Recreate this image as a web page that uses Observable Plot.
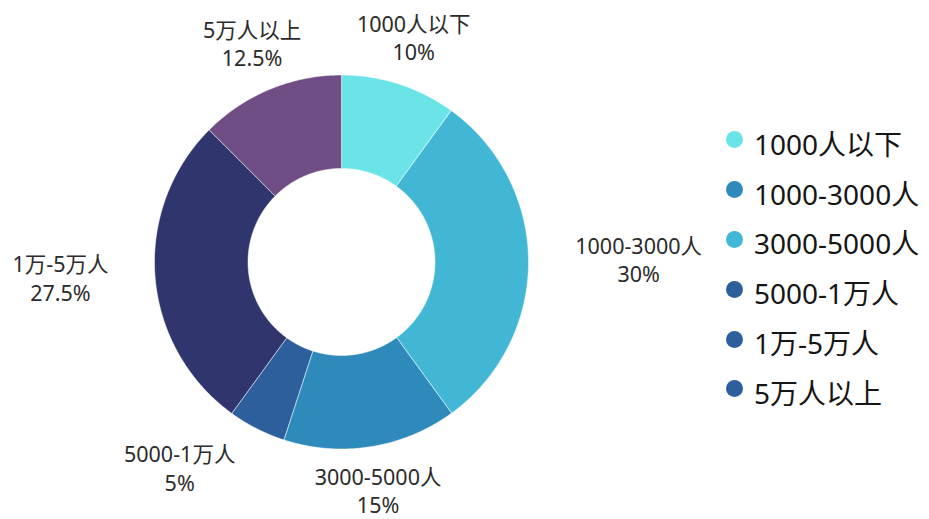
<!DOCTYPE html>
<html><head><meta charset="utf-8">
<script src="https://cdn.jsdelivr.net/npm/d3@7"></script>
<script src="https://cdn.jsdelivr.net/npm/@observablehq/plot@0.6"></script>
<style>
body{margin:0;background:#fff;font-family:"Noto Sans","Noto Sans CJK SC",sans-serif}
#wrap{position:relative;width:929px;height:519px}
#legend{position:absolute;left:726px;top:118px}
.row{display:flex;align-items:center;height:49.8px;font-size:28px;color:#151515;white-space:nowrap}
.sw{width:17px;height:17px;border-radius:50%;margin-right:11px;margin-top:-6px;flex:none}
</style></head><body><div id="wrap"></div>
<script>
const categories = ["1000人以下", "1000-3000人", "3000-5000人", "5000-1万人", "1万-5万人", "5万人以上"];
const shares = [10, 30, 15, 5, 27.5, 12.5];
const sliceColors = ["#6ae4e7", "#42b7d5", "#2d8abb", "#2c5f9b", "#30356d", "#704d85"];
const legendColors = ["#6ae4e7", "#2d8abb", "#42b7d5", "#2c5f9b", "#2c5f9b", "#2c5f9b"];

// layout (pixels)
const W = 929, H = 519, cx = 341, cy = 261.5, R = 187;
const innerR = 0.5, labelR = 1.25;
const labelSize = 21.5, fontFamily = '"Noto Sans","Noto Sans CJK SC",sans-serif';

const ctx = document.createElement("canvas").getContext("2d");
ctx.font = `${labelSize}px ${fontFamily}`;

const total = d3.sum(shares);
let acc = 0;
const slices = categories.map((name, i) => {
  const a0 = acc / total * 2 * Math.PI;
  acc += shares[i];
  const a1 = acc / total * 2 * Math.PI;
  const n = Math.max(8, Math.ceil((a1 - a0) / 0.01));
  const ring = [];
  for (let k = 0; k <= n; k++) { const a = a0 + (a1 - a0) * k / n; ring.push([Math.sin(a), -Math.cos(a)]); }
  for (let k = n; k >= 0; k--) { const a = a0 + (a1 - a0) * k / n; ring.push([innerR * Math.sin(a), -innerR * Math.cos(a)]); }
  ring.push(ring[0]);
  const am = (a0 + a1) / 2, s = Math.sin(am);
  const text = `${name}\n${shares[i]}%`;
  const halfW = d3.max(text.split("\n"), t => ctx.measureText(t).width) / 2 / R;
  const side = s > 0.42 ? 1 : s < -0.42 ? -1 : 0;
  return {
    name, pct: shares[i], text,
    feature: {type: "Feature", properties: {color: sliceColors[i]}, geometry: {type: "Polygon", coordinates: [ring]}},
    lx: labelR * s + side * halfW, ly: -labelR * Math.cos(am)
  };
});

const chart = Plot.plot({
  width: W, height: H, margin: 0,
  x: {type: "linear", domain: [-cx / R, (W - cx) / R], range: [0, W], axis: null},
  y: {type: "linear", domain: [-cy / R, (H - cy) / R], range: [0, H], axis: null},
  color: {type: "identity"},
  style: {fontFamily, background: "#fff"},
  marks: [
    Plot.geo(slices.map(d => d.feature), {fill: d => d.properties.color, stroke: "#fff", strokeWidth: 0.5}),
    Plot.text(slices, {x: "lx", y: "ly", text: "text", dy: -3, fontSize: labelSize, lineHeight: 1.32, fill: "#2b2b2b", lineAnchor: "middle", textAnchor: "middle"})
  ]
});

const wrap = document.getElementById("wrap");
wrap.appendChild(chart);
const legend = document.createElement("div");
legend.id = "legend";
categories.forEach((c, i) => {
  const row = document.createElement("div");
  row.className = "row";
  row.innerHTML = `<span class="sw" style="background:${legendColors[i]}"></span><span>${c}</span>`;
  legend.appendChild(row);
});
wrap.appendChild(legend);
</script>
</body></html>
